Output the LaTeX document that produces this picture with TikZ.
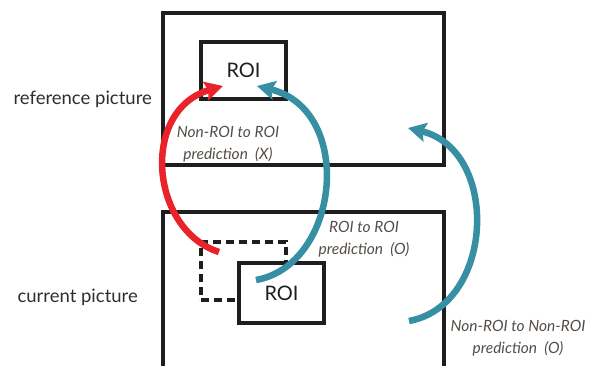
\documentclass[tikz,border=0pt]{standalone}
\usepackage{fontspec}
\setmainfont{Lato}
\usetikzlibrary{arrows.meta}
\definecolor{arrred}{RGB}{232,35,42}
\definecolor{arrteal}{RGB}{55,143,163}
\definecolor{lblcol}{RGB}{85,78,72}
\definecolor{frame}{RGB}{30,30,30}
\tikzset{
  box/.style={draw=frame, line width=3.6pt, minimum width=#1, inner sep=0pt},
  roibox/.style={draw=frame, line width=3.2pt, fill=white, font=\fontsize{20}{22}\selectfont, text=frame, inner sep=0pt},
  dashbox/.style={draw=frame, line width=3.2pt, dash pattern=on 8pt off 5pt, inner sep=0pt},
  side/.style={font=\fontsize{18.5}{20}\selectfont, text=black!82},
  lbl/.style={font=\itshape\fontsize{15.5}{22}\selectfont, text=lblcol, align=center},
  bigarrow/.style={line width=6.5pt, -{Stealth[length=18pt,width=19pt,inset=3pt]}},
}
\begin{document}
\begin{tikzpicture}[x=1pt,y=-1pt]
\useasboundingbox (0,0) rectangle (589,365);
% frames
\node[box=281pt, minimum height=152pt] (refpic) at (303.5,89) {};
\draw[draw=frame, line width=3.6pt] (163,368) -- (163,212) -- (444,212) -- (444,368);
\coordinate (curtop) at (303.5,212);
% ROI boxes
\node[roibox, minimum width=85pt, minimum height=57pt] (roiT) at (243.5,70.5) {ROI};
\node[dashbox, minimum width=85pt, minimum height=58pt] (dash) at (243.5,271) {};
\node[roibox, minimum width=85pt, minimum height=60pt] (roiB) at (281.5,293) {ROI};
% side labels
\node[side, anchor=west] (reflbl) at (10,99) {reference picture};
\node[side, anchor=west] (curlbl) at (14,297) {current picture};
% arrow endpoints
\coordinate (rs) at (219,252);
\coordinate (re) at (223,86);
\coordinate (t1s) at (256,280);
\coordinate (t1e) at (257,86);
\coordinate (t2s) at (409,321);
\coordinate (t2e) at (408,128);
\draw[bigarrow, arrred] (rs) .. controls (150,230) and (140,110) .. (re);
\draw[bigarrow, arrteal] (t1s) .. controls (340,265) and (355,110) .. (t1e);
\draw[bigarrow, arrteal] (t2s) .. controls (495,305) and (500,150) .. (t2e);
% labels
\node[lbl] (l1) at (228,144) {Non-ROI to ROI\\prediction~~(X)};
\node[lbl] (l2) at (364,239) {ROI to ROI\\prediction~~(O)};
\node[lbl] (l3) at (518,338) {Non-ROI to Non-ROI\\prediction~~(O)};
\end{tikzpicture}
\end{document}
